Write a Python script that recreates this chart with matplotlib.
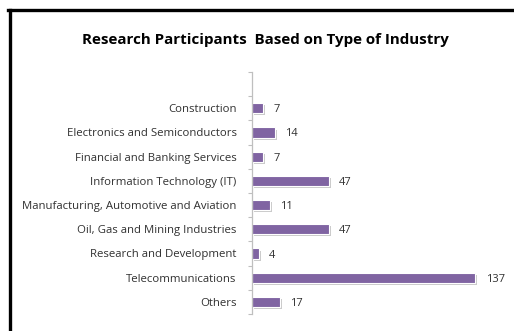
import matplotlib
matplotlib.use("Agg")
import matplotlib.pyplot as plt
import matplotlib.patheffects as pe
from matplotlib.lines import Line2D
import numpy as np

plt.rcParams['font.family'] = ['Open Sans', 'DejaVu Sans']

# data
industries = ['Construction', 'Electronics and Semiconductors', 'Financial and Banking Services',
              'Information Technology (IT)', 'Manufacturing, Automotive and Aviation',
              'Oil, Gas and Mining Industries', 'Research and Development',
              'Telecommunications', 'Others']
counts = [7, 14, 7, 47, 11, 47, 4, 137, 17]

W, H = 514, 331
fig = plt.figure(figsize=(W / 100, H / 100), dpi=100)

# axes placed in pixel terms: y-axis at x=252, top 72, bottom 314
left, top, bottom = 252, 72, 314
xmax = 160
px_per_unit = 1.628
ax = fig.add_axes([left / W, 1 - bottom / H, xmax * px_per_unit / W, (bottom - top) / H])

ypos = np.arange(len(industries))
ax.barh(ypos, counts, height=0.42, color='#8064A2', edgecolor='white', linewidth=0.8,
        path_effects=[pe.SimplePatchShadow(offset=(1.5, -1.5), shadow_rgbFace='#a8a8a8', alpha=0.6),
                      pe.Normal()])

for y, v in zip(ypos, counts):
    ax.text(v + 6.5, y, str(v), va='center_baseline', ha='left', fontsize=8, color='#303030')

ax.set_xlim(0, xmax)
ax.set_ylim(len(industries) - 0.5, -1.5)

ax.set_yticks(ypos)
ax.set_yticklabels(industries, fontsize=8.2, color='#303030', va='center_baseline')
ax.tick_params(axis='y', which='major', length=0, pad=11)
ax.set_yticks(np.arange(-1.5, len(industries), 1.0), minor=True)
ax.tick_params(axis='y', which='minor', length=3, color='#bfbfbf', width=0.8)
ax.set_xticks([])

for s in ['top', 'right', 'bottom']:
    ax.spines[s].set_visible(False)
ax.spines['left'].set_color('#bfbfbf')
ax.spines['left'].set_linewidth(0.9)

fig.text(265 / W, 1 - 40 / H, 'Research Participants  Based on Type of Industry',
         ha='center', va='center', fontsize=10.9, fontweight='bold', color='black')

# black frame on left and top edges
fig.add_artist(Line2D([9.5 / W, 9.5 / W], [0, 1 - 9.5 / H], color='black', lw=2.4, transform=fig.transFigure))
fig.add_artist(Line2D([8 / W, 1], [1 - 9.5 / H, 1 - 9.5 / H], color='black', lw=2.4, transform=fig.transFigure))

fig.savefig('out.png', dpi=100)
